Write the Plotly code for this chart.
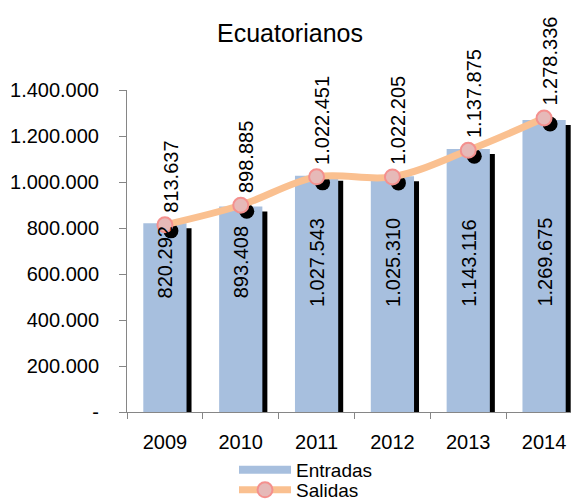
import plotly.graph_objects as go

# ---- data ----
years = ["2009", "2010", "2011", "2012", "2013", "2014"]
entradas = [820292, 893408, 1027543, 1025310, 1143116, 1269675]
salidas = [813637, 898885, 1022451, 1022205, 1137875, 1278336]
y_tickvals = [0, 200000, 400000, 600000, 800000, 1000000, 1200000, 1400000]
y_ticktext = ["-", "200.000", "400.000", "600.000", "800.000",
              "1.000.000", "1.200.000", "1.400.000"]


def fmt(v):
    return f"{v:,}".replace(",", ".")


# ---- layout geometry (page body has an 8px margin) ----
OFF = 8
W, H = 579, 501
L, T = 127 - OFF, 90 - OFF
R = W - (582 - OFF)          # plot area ends just past the window edge
B = H - (412 - OFF)
x_range = [-0.5, 5.5]
y_range = [0, 1400000]
px_x = (W - L - R) / (x_range[1] - x_range[0])
px_y = (H - T - B) / (y_range[1] - y_range[0])
bar_dx, bar_dy = 5 / px_x, 5 / px_y
mk_dx, mk_dy = 6 / px_x, 6 / px_y
bar_w = 0.57

xs = list(range(len(years)))
FONT = "Liberation Sans, Arial, sans-serif"
BLUE = "#A7BFDE"
PEACH = "#FAC090"
GRAY = "#868686"

fig = go.Figure()

# bar shadow
fig.add_trace(go.Bar(
    x=[x + bar_dx for x in xs], y=entradas, base=[-bar_dy] * len(xs),
    width=bar_w, marker=dict(color="black", line=dict(width=0)),
    showlegend=False, hoverinfo="skip"))
# bars
fig.add_trace(go.Bar(
    x=xs, y=entradas, width=bar_w, name="Entradas",
    marker=dict(color=BLUE, line=dict(width=0)), showlegend=False))
# marker shadow
fig.add_trace(go.Scatter(
    x=[x + mk_dx for x in xs], y=[v - mk_dy for v in salidas], mode="markers",
    marker=dict(color="black", size=15), showlegend=False, hoverinfo="skip"))
# line
fig.add_trace(go.Scatter(
    x=xs, y=salidas, mode="lines+markers", name="Salidas",
    line=dict(color=PEACH, width=7, shape="spline"),
    marker=dict(color="#E6B9B8", size=15, line=dict(color="#F4908E", width=2)),
    legend="legend2"))
# legend proxy for bars
fig.add_trace(go.Scatter(
    x=[None], y=[None], mode="lines", name="Entradas",
    line=dict(color=BLUE, width=8), legend="legend"))

annotations = []
for x, v in zip(xs, entradas):
    annotations.append(dict(
        x=x, y=650000, xref="x", yref="y", text=fmt(v), textangle=-90,
        showarrow=False, font=dict(size=20, color="black", family=FONT),
        xanchor="center", yanchor="middle"))
for x, v in zip(xs, salidas):
    annotations.append(dict(
        x=x, y=v, xref="x", yref="y", text=fmt(v), textangle=-90,
        showarrow=False, font=dict(size=20, color="black", family=FONT),
        xanchor="center", yanchor="bottom", yshift=10, xshift=6))

legend_common = dict(xref="container", yref="container", xanchor="left",
                     yanchor="middle", itemwidth=52,
                     font=dict(size=19, color="black"),
                     bgcolor="rgba(0,0,0,0)", borderwidth=0)

fig.update_layout(
    width=W, height=H,
    margin=dict(l=L, r=R, t=T, b=B, autoexpand=False),
    paper_bgcolor="white", plot_bgcolor="white",
    barmode="overlay",
    font=dict(family=FONT, size=20, color="black"),
    title=dict(text="Ecuatorianos", x=(290 - OFF) / W, xanchor="center",
               xref="container",
               y=1 - (33 - OFF) / H, yanchor="middle", yref="container",
               font=dict(size=25, color="black", family=FONT)),
    xaxis=dict(range=x_range, tickmode="array", tickvals=xs, ticktext=years,
               ticks="", showgrid=False, zeroline=False, showline=True,
               linecolor=GRAY, linewidth=1, ticklabelstandoff=12,
               automargin=False,
               tickfont=dict(size=20, color="black"),
               minor=dict(tickmode="array",
                          tickvals=[x - 0.5 for x in xs],
                          ticks="outside", ticklen=6, tickcolor=GRAY,
                          showgrid=False)),
    yaxis=dict(range=y_range, tickmode="array", tickvals=y_tickvals,
               ticktext=y_ticktext, ticks="outside", ticklen=7, tickcolor=GRAY,
               showgrid=False, zeroline=False, showline=True, linecolor=GRAY,
               linewidth=1, ticklabelstandoff=16, automargin=False,
               tickfont=dict(size=20, color="black")),
    legend=dict(x=(234 - OFF) / W, y=1 - (470 - OFF) / H, **legend_common),
    legend2=dict(x=(234 - OFF) / W, y=1 - (490 - OFF) / H, **legend_common),
    annotations=annotations,
)

fig.write_html("out.html")
